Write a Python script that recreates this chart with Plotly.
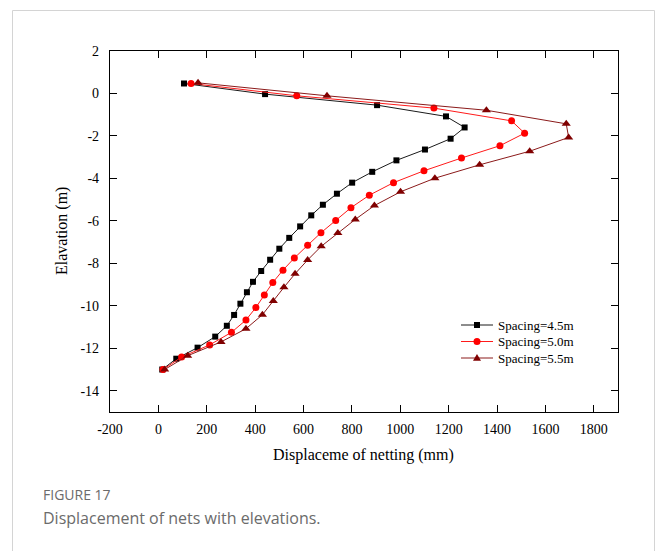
import plotly.graph_objects as go

# Net displacement (mm) against elevation (m) for three spacings
disp_45 = [106, 441, 904, 1189, 1266, 1208, 1102, 984, 884, 801, 738, 680, 632,
           586, 541, 500, 462, 425, 391, 366, 339, 313, 283, 235, 162, 74, 16]
elev_45 = [0.47, -0.03, -0.55, -1.08, -1.6, -2.13, -2.64, -3.15, -3.69, -4.2,
           -4.72, -5.24, -5.74, -6.26, -6.8, -7.31, -7.83, -8.36, -8.87, -9.36,
           -9.9, -10.43, -10.94, -11.45, -11.97, -12.49, -13.0]

disp_50 = [135, 572, 1139, 1460, 1514, 1412, 1253, 1098, 972, 872, 796, 733,
           672, 617, 562, 515, 473, 438, 403, 362, 302, 212, 96, 19]
elev_50 = [0.47, -0.11, -0.69, -1.29, -1.87, -2.46, -3.04, -3.64, -4.2, -4.79,
           -5.38, -5.98, -6.56, -7.15, -7.75, -8.32, -8.9, -9.49, -10.08, -10.67,
           -11.25, -11.84, -12.41, -13.0]

disp_55 = [164, 697, 1356, 1686, 1696, 1535, 1328, 1143, 1001, 893, 814, 742,
           673, 617, 565, 519, 475, 430, 362, 259, 121, 26]
elev_55 = [0.5, -0.11, -0.79, -1.43, -2.07, -2.72, -3.36, -3.99, -4.63, -5.28,
           -5.93, -6.57, -7.2, -7.84, -8.49, -9.13, -9.77, -10.42, -11.08, -11.7,
           -12.35, -13.0]

series_names = ["Spacing=4.5m", "Spacing=5.0m", "Spacing=5.5m"]
x_ticks = list(range(-200, 1801, 200))
y_ticks = list(range(-14, 3, 2))

W, H = 656, 551
L, R, T, B = 110, 38, 51, 139
pw, ph = W - L - R, H - T - B


def px_x(p):
    return (p - L) / pw


def px_y(p):
    return (H - B - p) / ph


SERIF = "Liberation Serif"
SANS = "Open Sans"

styles = [
    dict(line="#1a1a1a", marker="#000000", symbol="square", size=6),
    dict(line="#ff1a1a", marker="#ff0000", symbol="circle", size=7),
    dict(line="#8b1a1a", marker="#800000", symbol="triangle-up", size=8),
]
data = [(disp_45, elev_45), (disp_50, elev_50), (disp_55, elev_55)]

fig = go.Figure()
for (xs, ys), name, st in zip(data, series_names, styles):
    fig.add_trace(go.Scatter(
        x=xs, y=ys, name=name, mode="lines+markers", showlegend=False,
        line=dict(color=st["line"], width=1),
        marker=dict(symbol=st["symbol"], size=st["size"], color=st["marker"])))

axis_common = dict(
    showline=True, linecolor="#000000", linewidth=1.3, mirror="allticks",
    ticks="inside", ticklen=7, tickwidth=1, tickcolor="#000000",
    showgrid=False, zeroline=False,
    tickfont=dict(family=SERIF, size=14, color="#000000"),
)

fig.update_xaxes(range=[-200, 1900], tickvals=x_ticks,
                 ticktext=[str(v) for v in x_ticks], ticklabelstandoff=4,
                 **axis_common)
fig.update_yaxes(range=[-15, 2], tickvals=y_ticks,
                 ticktext=[str(v) for v in y_ticks], ticklabelstandoff=7,
                 **axis_common)

shapes = []
# white card with a thin grey border behind the chart
shapes.append(dict(type="rect", xref="paper", yref="paper",
                   x0=px_x(12.5), x1=px_x(654.5), y0=px_y(600), y1=px_y(10.5),
                   line=dict(color="#d4d4d4", width=1),
                   fillcolor="rgba(0,0,0,0)", layer="below"))

annotations = [
    dict(text="Displaceme of netting (mm)", x=px_x(363), y=px_y(455),
         font=dict(family=SERIF, size=16, color="#000000")),
    dict(text="Elavation (m)", x=px_x(62), y=px_y(231), textangle=-90,
         font=dict(family=SERIF, size=16, color="#000000")),
    dict(text="FIGURE 17", x=px_x(41), y=px_y(494), xanchor="left",
         font=dict(family=SANS, size=14, color="#6b6b6b")),
    dict(text="Displacement of nets with elevations.", x=px_x(41), y=px_y(518),
         xanchor="left",
         font=dict(family=SANS, size=16, color="#6b6b6b")),
]

# legend: short line, marker and label for each series
leg_x0, leg_x1, leg_mid, leg_text = 461, 493, 477, 496
for i, (name, st) in enumerate(zip(series_names, styles)):
    yc = 325 + i * 16.5
    shapes.append(dict(type="line", xref="paper", yref="paper",
                       x0=px_x(leg_x0), x1=px_x(leg_x1),
                       y0=px_y(yc), y1=px_y(yc),
                       line=dict(color=st["line"], width=1)))
    h = st["size"] / 2
    if st["symbol"] == "square":
        shapes.append(dict(type="rect", xref="paper", yref="paper",
                           x0=px_x(leg_mid - h), x1=px_x(leg_mid + h),
                           y0=px_y(yc + h), y1=px_y(yc - h),
                           line=dict(width=0), fillcolor=st["marker"]))
    elif st["symbol"] == "circle":
        shapes.append(dict(type="circle", xref="paper", yref="paper",
                           x0=px_x(leg_mid - h), x1=px_x(leg_mid + h),
                           y0=px_y(yc + h), y1=px_y(yc - h),
                           line=dict(width=0), fillcolor=st["marker"]))
    else:
        path = "M {:.4f} {:.4f} L {:.4f} {:.4f} L {:.4f} {:.4f} Z".format(
            px_x(leg_mid - h), px_y(yc + h * 0.7),
            px_x(leg_mid + h), px_y(yc + h * 0.7),
            px_x(leg_mid), px_y(yc - h))
        shapes.append(dict(type="path", xref="paper", yref="paper", path=path,
                           line=dict(width=0), fillcolor=st["marker"]))
    annotations.append(dict(text=name, x=px_x(leg_text), y=px_y(yc),
                            xanchor="left",
                            font=dict(family=SERIF, size=13, color="#000000")))

for a in annotations:
    a.setdefault("xanchor", "center")
    a.update(xref="paper", yref="paper", yanchor="middle", showarrow=False)

fig.update_layout(
    width=W, height=H,
    margin=dict(l=L, r=R, t=T, b=B),
    font=dict(family=SERIF, size=14, color="#000000"),
    paper_bgcolor="#ffffff", plot_bgcolor="#ffffff",
    annotations=annotations, shapes=shapes,
    showlegend=False,
)

fig.write_html("out.html")
